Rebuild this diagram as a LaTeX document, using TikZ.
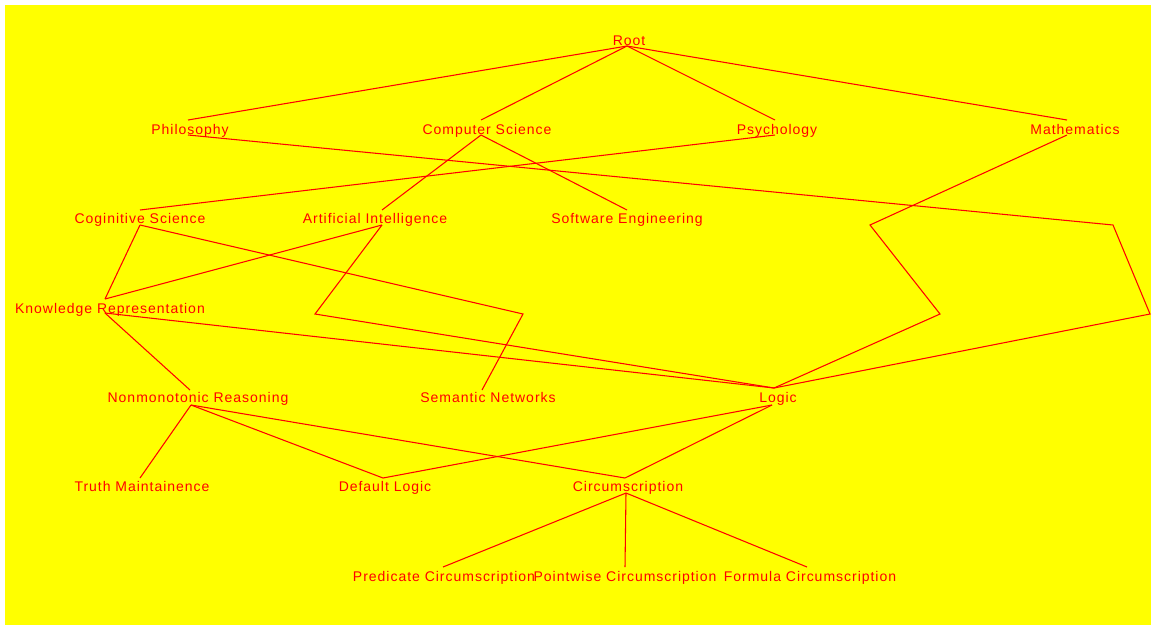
\documentclass[tikz,border=0pt]{standalone}
\usepackage{fontspec}
\setmainfont{Liberation Sans}[LetterSpace=7]
\definecolor{bgyellow}{RGB}{255,255,0}
\definecolor{fgred}{RGB}{255,0,0}
\begin{document}
\begin{tikzpicture}[x=0.75pt,y=-0.75pt,
  lbl/.style={text=fgred,font=\fontsize{10.5}{12}\selectfont,inner sep=0pt,anchor=base},
  edge/.style={draw=fgred,line width=0.8pt}]
\useasboundingbox (0,0) rectangle (1151,626);
\fill[white] (0,0) rectangle (1151,626);
\fill[bgyellow] (5,5) rectangle (1151,625);
% labels
\node[lbl] (root) at (629,45) {Root};
\node[lbl] (phil) at (190,134) {Philosophy};
\node[lbl] (cs) at (487,134) {Computer Science};
\node[lbl] (psy) at (777,134) {Psychology};
\node[lbl] (math) at (1075,134) {Mathematics};
\node[lbl] (cog) at (140,223) {Coginitive Science};
\node[lbl] (ai) at (375,223) {Artificial Intelligence};
\node[lbl] (se) at (627,223) {Software Engineering};
\node[lbl] (kr) at (110,313) {Knowledge Representation};
\node[lbl] (nr) at (198,402) {Nonmonotonic Reasoning};
\node[lbl] (sn) at (488,402) {Semantic Networks};
\node[lbl] (logic) at (778,402) {Logic};
\node[lbl] (tm) at (142,491) {Truth Maintainence};
\node[lbl] (dl) at (385,491) {Default Logic};
\node[lbl] (circ) at (628,491) {Circumscription};
\node[lbl] (pred) at (444,581) {Predicate Circumscription};
\node[lbl] (point) at (625,581) {Pointwise Circumscription};
\node[lbl] (form) at (810,581) {Formula Circumscription};
% attachment points
\coordinate (rootB) at (627,46);
\coordinate (philT) at (188,120); \coordinate (philB) at (188,135);
\coordinate (csT) at (481,120); \coordinate (csB) at (481,135);
\coordinate (psyT) at (775,120); \coordinate (psyB) at (775,135);
\coordinate (mathT) at (1067,120); \coordinate (mathB) at (1067,135);
\coordinate (cogT) at (140,210); \coordinate (cogB) at (140,225);
\coordinate (aiT) at (382,210); \coordinate (aiB) at (382,225);
\coordinate (seT) at (627,210);
\coordinate (krT) at (105,299); \coordinate (krB) at (105,313);
\coordinate (nrT) at (190,390); \coordinate (nrB) at (191,405);
\coordinate (snT) at (482,390);
\coordinate (logicT) at (774,388); \coordinate (logicB) at (772,405);
\coordinate (tmT) at (140,478);
\coordinate (dlT) at (383,478);
\coordinate (circT) at (625,478); \coordinate (circB) at (626,493);
\coordinate (predT) at (443,567);
\coordinate (pointT) at (625,567);
\coordinate (formT) at (807,567);
% bend points
\coordinate (pl1) at (1113,225); \coordinate (pl2) at (1150,314);
\coordinate (ml1) at (870,225); \coordinate (ml2) at (940,314);
\coordinate (cs1) at (523,314);
\coordinate (al1) at (315,314);
% connectors
\draw[edge] (rootB) -- (philT);
\draw[edge] (rootB) -- (csT);
\draw[edge] (rootB) -- (psyT);
\draw[edge] (rootB) -- (mathT);
\draw[edge] (csB) -- (aiT);
\draw[edge] (csB) -- (seT);
\draw[edge] (psyB) -- (cogT);
\draw[edge] (philB) -- (pl1) -- (pl2) -- (logicT);
\draw[edge] (mathB) -- (ml1) -- (ml2) -- (logicT);
\draw[edge] (cogB) -- (krT);
\draw[edge] (aiB) -- (krT);
\draw[edge] (cogB) -- (cs1) -- (snT);
\draw[edge] (aiB) -- (al1) -- (logicT);
\draw[edge] (krB) -- (logicT);
\draw[edge] (krB) -- (nrT);
\draw[edge] (nrB) -- (tmT);
\draw[edge] (nrB) -- (dlT);
\draw[edge] (nrB) -- (circT);
\draw[edge] (logicB) -- (dlT);
\draw[edge] (logicB) -- (circT);
\draw[edge] (circB) -- (predT);
\draw[edge] (circB) -- (pointT);
\draw[edge] (circB) -- (formT);
\end{tikzpicture}
\end{document}
